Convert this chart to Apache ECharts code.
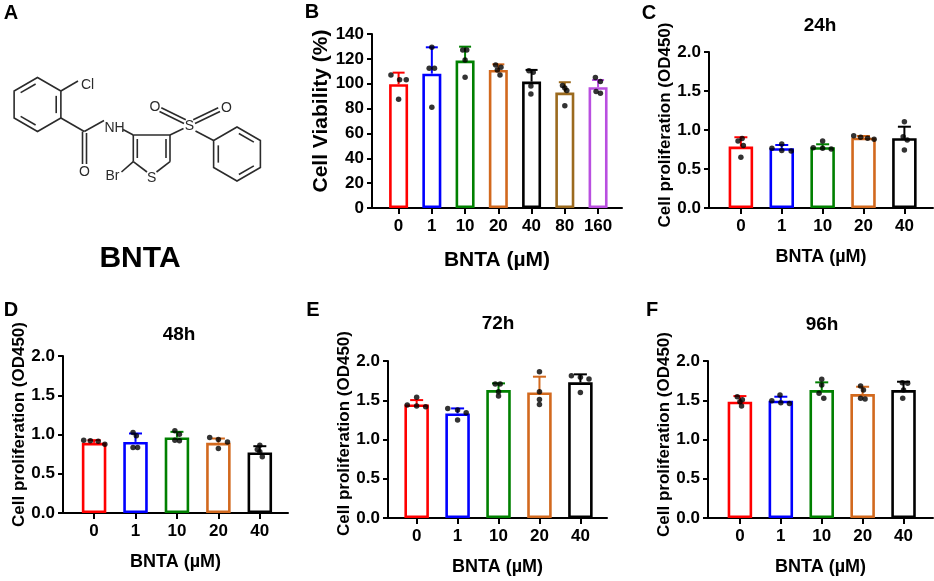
<!DOCTYPE html>
<html>
<head>
<meta charset="utf-8">
<script src="https://cdn.jsdelivr.net/npm/echarts@6/dist/echarts.min.js"></script>
<style>
  html, body { margin: 0; padding: 0; background: #fff; }
  #chart { width: 934px; height: 581px; }
</style>
</head>
<body>
<div id="chart"></div>
<script>
// ---- data ----
const doseB = ['0', '1', '10', '20', '40', '80', '160']
const doseCF = ['0', '1', '10', '20', '40']

const viabilityTicks = [0, 20, 40, 60, 80, 100, 120, 140]
const odTicks = [0, 0.5, 1.0, 1.5, 2.0]

// B: cell viability (%)
const viabilityMean = [99.6, 108.1, 118.6, 111.1, 101.7, 92.9, 97.2]
const viabilitySd = [9.3, 21.2, 11.2, 4.5, 9.4, 8.3, 5.8]
const viabilityDots = [
  [107.1, 103.1, 103.1, 87.5],
  [129.3, 112.4, 112.4, 81.1],
  [127.1, 127.1, 119.1, 105.2],
  [115.1, 113.2, 111.1, 107.0],
  [110.5, 109.2, 98.2, 91.8],
  [98.5, 96.5, 94.5, 82.2],
  [104.9, 101.7, 93.7, 92.4]
]
const viabilityJitter = [
  [-0.23, 0.03, 0.23, 0], [0, -0.08, 0.08, 0], [-0.07, 0.05, 0, 0],
  [-0.08, 0.08, -0.03, 0.05], [-0.08, 0.05, -0.02, -0.02],
  [-0.07, 0, 0.06, 0], [-0.08, 0.07, -0.06, 0.07]
]

// C: 24h
const od24Mean = [0.787, 0.766, 0.779, 0.902, 0.894]
const od24Sd = [0.12, 0.042, 0.038, 0.021, 0.148]
const od24Dots = [
  [0.89, 0.86, 0.80, 0.65],
  [0.821, 0.766, 0.736, 0.732],
  [0.86, 0.774, 0.766, 0.757],
  [0.927, 0.907, 0.894, 0.881],
  [1.106, 0.915, 0.872, 0.745]
]
const od24Jitter = [
  [0.03, -0.07, 0.06, 0], [0, -0.24, 0, 0.23], [0, -0.23, 0, 0.21],
  [-0.24, -0.07, 0.1, 0.26], [0, -0.03, 0.07, 0]
]

// D: 48h
const od48Mean = [0.894, 0.906, 0.962, 0.894, 0.771]
const od48Sd = [0.034, 0.107, 0.072, 0.055, 0.08]
const od48Dots = [
  [0.928, 0.919, 0.915, 0.877],
  [1.026, 0.983, 0.835, 0.835],
  [1.047, 1.004, 0.928, 0.92],
  [0.962, 0.936, 0.906, 0.822],
  [0.864, 0.809, 0.779, 0.715]
]
const od48Jitter = [
  [-0.25, -0.09, 0.1, 0.26], [-0.06, 0.02, -0.06, 0.05], [-0.05, 0.06, -0.05, 0.06],
  [-0.21, 0, 0.22, 0], [0, -0.06, 0, 0.06]
]

// E: 72h
const od72Mean = [1.447, 1.332, 1.630, 1.600, 1.728]
const od72Sd = [0.055, 0.064, 0.085, 0.2, 0.102]
const od72Dots = [
  [1.537, 1.438, 1.426, 1.417],
  [1.396, 1.375, 1.340, 1.247],
  [1.706, 1.706, 1.608, 1.553],
  [1.863, 1.608, 1.511, 1.447],
  [1.812, 1.792, 1.770, 1.60]
]
const od72Jitter = [
  [0, -0.23, 0, 0.22], [-0.24, 0, 0.21, 0], [-0.08, 0.04, 0, 0],
  [0, 0, 0, 0], [-0.22, 0, 0.21, 0]
]

// F: 96h
const od96Mean = [1.481, 1.494, 1.630, 1.579, 1.630]
const od96Sd = [0.072, 0.051, 0.098, 0.093, 0.106]
const od96Dots = [
  [1.544, 1.506, 1.48, 1.426],
  [1.566, 1.494, 1.468, 1.460],
  [1.766, 1.694, 1.588, 1.524],
  [1.681, 1.630, 1.524, 1.515],
  [1.723, 1.715, 1.630, 1.524]
]
const od96Jitter = [
  [-0.065, 0.06, 0, 0.04], [-0.02, -0.22, 0, 0.21], [0, 0, -0.065, 0.05],
  [-0.05, 0.02, -0.05, 0.06], [-0.03, 0.1, 0, -0.02]
]

// ---- styles ----
const FONT = 'Liberation Sans, Arial, sans-serif'
const colorsB = ['#ff0000', '#0000ff', '#008000', '#d2691e', '#000000', '#9b6a1e', '#b94fe0']
const colorsCF = ['#ff0000', '#0000ff', '#008000', '#d2691e', '#000000']

const panels = [
  {
    cats: doseB, ticks: viabilityTicks, mean: viabilityMean, sd: viabilitySd,
    dots: viabilityDots, jitter: viabilityJitter, colors: colorsB,
    grid: { left: 372, top: 34, width: 250, height: 174 }, xMin: -0.8, xMax: 6.72,
    barWidth: 19, cap: 6, yName: 'Cell Viability (%)', yNameSize: 21, yNameGap: 35, yNameShift: 20,
    xNameSize: 21, xNameGap: 42,
    fmt: v => String(v)
  },
  {
    cats: doseCF, ticks: odTicks, mean: od24Mean, sd: od24Sd,
    dots: od24Dots, jitter: od24Jitter, colors: colorsCF,
    grid: { left: 709, top: 52, width: 224, height: 156 }, xMin: -0.78, xMax: 4.7,
    barWidth: 24.5, cap: 6.5, yName: 'Cell proliferation (OD450)', yNameSize: 17, yNameGap: 35, yNameShift: 10,
    xNameSize: 18, xNameGap: 40,
    fmt: v => v.toFixed(1)
  },
  {
    cats: doseCF, ticks: odTicks, mean: od48Mean, sd: od48Sd,
    dots: od48Dots, jitter: od48Jitter, colors: colorsCF,
    grid: { left: 63, top: 356, width: 225, height: 157 }, xMin: -0.75, xMax: 4.68,
    barWidth: 24.5, cap: 6.5, yName: 'Cell proliferation (OD450)', yNameSize: 17, yNameGap: 35, yNameShift: 20,
    xNameSize: 18, xNameGap: 40,
    fmt: v => v.toFixed(1)
  },
  {
    cats: doseCF, ticks: odTicks, mean: od72Mean, sd: od72Sd,
    dots: od72Dots, jitter: od72Jitter, colors: colorsCF,
    grid: { left: 388, top: 361, width: 219, height: 157 }, xMin: -0.7, xMax: 4.65,
    barWidth: 24.5, cap: 6.5, yName: 'Cell proliferation (OD450)', yNameSize: 17, yNameGap: 35, yNameShift: 12,
    xNameSize: 18, xNameGap: 40,
    fmt: v => v.toFixed(1)
  },
  {
    cats: doseCF, ticks: odTicks, mean: od96Mean, sd: od96Sd,
    dots: od96Dots, jitter: od96Jitter, colors: colorsCF,
    grid: { left: 708, top: 361, width: 225, height: 157 }, xMin: -0.78, xMax: 4.72,
    barWidth: 24.5, cap: 6.5, yName: 'Cell proliferation (OD450)', yNameSize: 17, yNameGap: 33, yNameShift: 10,
    xNameSize: 18, xNameGap: 40,
    fmt: v => v.toFixed(1)
  }
]

const axisLineStyle = { color: '#000', width: 2 }
const boldText = (size) => ({ fontFamily: FONT, fontWeight: 'bold', fontSize: size, color: '#000' })

const grids = []
const xAxes = []
const yAxes = []
const series = []

panels.forEach((p, i) => {
  const idx = p.cats.map((c, k) => k)
  grids.push(Object.assign({ containLabel: false }, p.grid))
  xAxes.push({
    gridIndex: i, type: 'value', min: p.xMin, max: p.xMax,
    name: 'BNTA (µM)', nameLocation: 'middle', nameGap: p.xNameGap,
    nameTextStyle: boldText(p.xNameSize),
    axisLine: { show: true, onZero: false, lineStyle: axisLineStyle },
    axisTick: { show: true, customValues: idx, length: 6, lineStyle: axisLineStyle },
    axisLabel: Object.assign({ customValues: idx, margin: 10, formatter: v => p.cats[Math.round(v)] }, boldText(17)),
    splitLine: { show: false }
  })
  yAxes.push({
    gridIndex: i, type: 'value', min: p.ticks[0], max: p.ticks[p.ticks.length - 1],
    interval: p.ticks[1] - p.ticks[0],
    name: p.yName, nameLocation: 'middle', nameGap: p.yNameGap,
    nameTextStyle: Object.assign({ padding: [0, 0, 0, p.yNameShift] }, boldText(p.yNameSize)),
    axisLine: { show: true, onZero: false, lineStyle: axisLineStyle },
    axisTick: { show: true, length: 5, lineStyle: axisLineStyle },
    axisLabel: Object.assign({ margin: 8, formatter: p.fmt }, boldText(17)),
    splitLine: { show: false }
  })
  series.push({
    type: 'bar', xAxisIndex: i, yAxisIndex: i, barWidth: p.barWidth, z: 2,
    data: p.mean.map((m, k) => ({
      value: [k, m],
      itemStyle: { color: '#fff', borderColor: p.colors[k], borderWidth: 2.6 }
    }))
  })
  series.push({
    type: 'custom', xAxisIndex: i, yAxisIndex: i, z: 3,
    data: p.mean.map((m, k) => [k, m, p.sd[k]]),
    renderItem: (params, api) => {
      const x = api.value(0)
      const m = api.value(1)
      const s = api.value(2)
      const base = api.coord([x, m])
      const top = api.coord([x, m + s])
      const stroke = p.colors[params.dataIndex]
      return {
        type: 'group',
        children: [
          { type: 'line', shape: { x1: base[0], y1: base[1], x2: top[0], y2: top[1] }, style: { stroke, lineWidth: 2 } },
          { type: 'line', shape: { x1: top[0] - p.cap, y1: top[1], x2: top[0] + p.cap, y2: top[1] }, style: { stroke, lineWidth: 2 } }
        ]
      }
    }
  })
  const pts = []
  p.dots.forEach((grp, k) => grp.forEach((v, j) => pts.push([k + p.jitter[k][j], v])))
  series.push({
    type: 'scatter', xAxisIndex: i, yAxisIndex: i, z: 4,
    symbolSize: 5.5, itemStyle: { color: '#000' }, data: pts
  })
})

// ---- panel A: structure drawing of BNTA ----
const INK = '#2b2b2b'
const molecule = []
function bond(x1, y1, x2, y2) {
  molecule.push({ type: 'line', shape: { x1, y1, x2, y2 }, style: { stroke: INK, lineWidth: 1.6 } })
}
function atom(text, x, y) {
  molecule.push({
    type: 'text', x, y,
    style: { text, fontFamily: FONT, fontSize: 14, fill: INK, align: 'center', verticalAlign: 'middle' }
  })
}
function ring(cx, cy, r, doubles) {
  const pts = []
  for (let k = 0; k < 6; k++) {
    const a = (-90 + 60 * k) * Math.PI / 180
    pts.push([cx + r * Math.cos(a), cy + r * Math.sin(a)])
  }
  molecule.push({ type: 'polygon', shape: { points: pts }, style: { fill: 'none', stroke: INK, lineWidth: 1.6 } })
  doubles.forEach(k => {
    const a = pts[k].map((v, d) => (d ? cy : cx) + (v - (d ? cy : cx)) * 0.8)
    const b = pts[(k + 1) % 6].map((v, d) => (d ? cy : cx) + (v - (d ? cy : cx)) * 0.8)
    const t = 0.1
    bond(a[0] + (b[0] - a[0]) * t, a[1] + (b[1] - a[1]) * t, a[0] + (b[0] - a[0]) * (1 - t), a[1] + (b[1] - a[1]) * (1 - t))
  })
}
ring(37.5, 104.5, 27, [1, 3, 5])
ring(237, 154, 27, [0, 2, 4])
bond(60.9, 91, 78, 81)
bond(60.9, 118, 84.3, 131.5)
bond(82.5, 131.5, 82.5, 164)
bond(86.5, 133, 86.5, 164)
bond(84.3, 131.5, 104, 120.5)
bond(123, 129.5, 133.3, 135)
bond(133.3, 135, 170, 135)
bond(133.3, 135, 133.3, 161.7)
bond(137.3, 139, 137.3, 158)
bond(170, 135, 170, 161.7)
bond(166, 139, 166, 158)
bond(170, 161.7, 156.5, 172)
bond(147, 172, 133.3, 161.7)
bond(133.3, 161.7, 121.5, 172)
bond(170, 135, 183.5, 128.5)
bond(184, 123.5, 159.5, 111.5)
bond(185.8, 119.8, 161.3, 107.8)
bond(195, 123.5, 220, 111.5)
bond(193.2, 119.8, 218.2, 107.8)
bond(195.5, 131, 213.6, 140.5)
atom('Cl', 87.5, 85)
atom('O', 84.5, 172.5)
atom('NH', 114.5, 128.5)
atom('Br', 112.5, 176.5)
atom('S', 151.7, 178)
atom('S', 189.5, 126.5)
atom('O', 155, 107.5)
atom('O', 226.5, 108)

function label(text, x, y, size) {
  return {
    type: 'text', x, y,
    style: { text, fontFamily: FONT, fontWeight: 'bold', fontSize: size, fill: '#000', align: 'center', verticalAlign: 'middle' }
  }
}

const panelLetters = [
  label('A', 11, 13, 20), label('B', 312, 12, 20), label('C', 649, 13, 20),
  label('D', 11, 310, 20), label('E', 313, 310, 20), label('F', 652, 310, 20)
]
const panelTitles = [
  label('24h', 820, 26, 19), label('48h', 179, 335, 19),
  label('72h', 498, 324, 19), label('96h', 822, 325, 19)
]

const chart = echarts.init(document.getElementById('chart'))
chart.setOption({
  backgroundColor: '#fff',
  animation: false,
  grid: grids,
  xAxis: xAxes,
  yAxis: yAxes,
  series,
  graphic: [].concat(molecule, panelLetters, panelTitles, [label('BNTA', 140, 259, 30)])
})
</script>
</body>
</html>
